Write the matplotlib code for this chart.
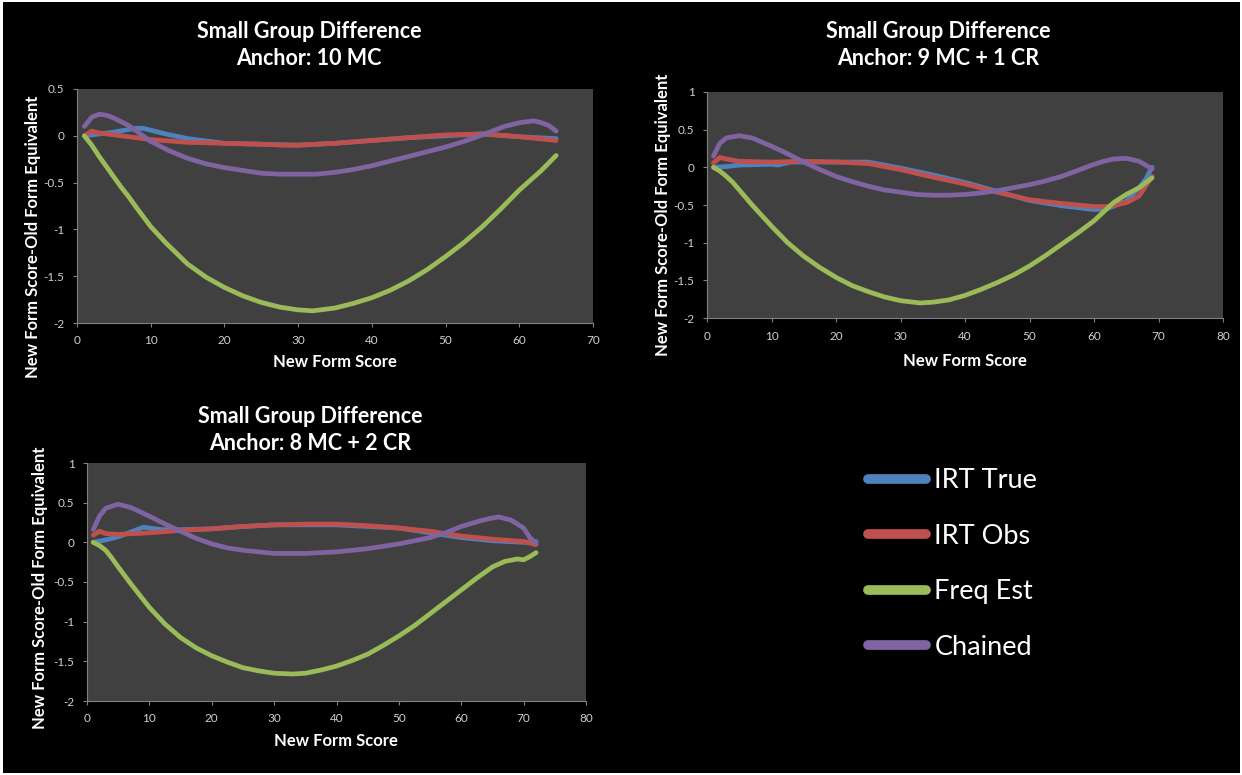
import matplotlib
matplotlib.use("Agg")
import matplotlib.pyplot as plt
from matplotlib.lines import Line2D
from matplotlib.patches import Rectangle
from matplotlib.ticker import FuncFormatter

plt.rcParams['font.family'] = ['Lato', 'DejaVu Sans']

series_names = ["IRT True", "IRT Obs", "Freq Est", "Chained"]
colors = ["#4F81BD", "#C0504D", "#9BBB59", "#8064A2"]

# panel 1: anchor 10 MC
p1_x_true = [1, 3, 5, 8, 9, 10, 12, 15, 20, 25, 30, 35, 40, 45, 50, 55, 60, 65]
p1_true = [0.0, 0.02, 0.04, 0.08, 0.08, 0.06, 0.02, -0.03, -0.08, -0.09, -0.10, -0.08, -0.05, -0.02, 0.0, 0.02, -0.01, -0.03]
p1_x_obs = [1, 2, 3, 5, 10, 15, 20, 25, 28, 30, 35, 40, 45, 50, 55, 60, 65]
p1_obs = [0.0, 0.05, 0.03, 0.01, -0.04, -0.07, -0.08, -0.09, -0.10, -0.10, -0.08, -0.05, -0.02, 0.01, 0.02, -0.01, -0.05]
p1_x_freq = [1, 2, 3, 4, 5, 6, 7, 8, 10, 12, 15, 17.5, 20, 22.5, 25, 27.5, 30, 32, 35, 37.5,
             40, 42.5, 45, 47.5, 50, 52.5, 55, 57.5, 60, 63, 65]
p1_freq = [0.0, -0.10, -0.22, -0.33, -0.44, -0.55, -0.65, -0.76, -0.97, -1.14, -1.37, -1.51, -1.62, -1.71,
           -1.78, -1.83, -1.86, -1.87, -1.84, -1.79, -1.73, -1.65, -1.55, -1.43, -1.29, -1.14, -0.97,
           -0.78, -0.58, -0.37, -0.21]
p1_x_chain = [1, 2, 3, 4, 5, 7, 10, 12.5, 15, 17.5, 20, 22.5, 25, 27.5, 30, 32.5, 35, 37.5, 40,
              42.5, 45, 47.5, 50, 52.5, 55, 58, 60, 62, 63, 64, 65]
p1_chain = [0.10, 0.20, 0.23, 0.22, 0.19, 0.11, -0.06, -0.16, -0.24, -0.30, -0.34, -0.37, -0.40, -0.41,
            -0.41, -0.41, -0.39, -0.36, -0.32, -0.27, -0.22, -0.17, -0.12, -0.06, 0.01, 0.10, 0.14,
            0.16, 0.14, 0.11, 0.05]

# panel 2: anchor 9 MC + 1 CR
p2_x_true = [1, 3, 5, 10, 11, 13, 20, 25, 30, 35, 40, 45, 50, 55, 60, 62, 65, 67, 68, 69]
p2_true = [0.0, 0.01, 0.03, 0.04, 0.03, 0.07, 0.07, 0.07, -0.01, -0.10, -0.20, -0.32, -0.44, -0.51, -0.56, -0.55, -0.45, -0.27, -0.16, 0.0]
p2_x_obs = [1, 2, 3, 5, 10, 15, 20, 25, 30, 35, 40, 45, 50, 55, 60, 62, 65, 67, 69]
p2_obs = [0.06, 0.13, 0.11, 0.08, 0.07, 0.08, 0.07, 0.05, -0.03, -0.13, -0.22, -0.33, -0.43, -0.48, -0.52, -0.52, -0.47, -0.38, -0.12]
p2_x_freq = [1, 2, 3, 4, 5, 7, 10, 12.5, 15, 17.5, 20, 22.5, 25, 27.5, 30, 33, 35, 37.5, 40,
             42.5, 45, 47.5, 50, 52.5, 55, 57.5, 60, 63, 65, 67, 69]
p2_freq = [0.0, -0.05, -0.12, -0.20, -0.30, -0.50, -0.78, -1.00, -1.18, -1.33, -1.46, -1.57, -1.65,
           -1.72, -1.77, -1.80, -1.79, -1.76, -1.70, -1.62, -1.53, -1.43, -1.31, -1.17, -1.02, -0.87,
           -0.71, -0.47, -0.36, -0.27, -0.14]
p2_x_chain = [1, 2, 3, 5, 7, 10, 12.5, 15, 17.5, 20, 22.5, 25, 27.5, 30, 32.5, 35, 37.5, 40, 42.5,
              45, 47.5, 50, 52.5, 55, 57.5, 60, 61.5, 63, 65, 67, 68, 69]
p2_chain = [0.15, 0.32, 0.39, 0.42, 0.39, 0.28, 0.18, 0.07, -0.03, -0.12, -0.19, -0.25, -0.30, -0.33,
            -0.36, -0.37, -0.37, -0.36, -0.34, -0.31, -0.27, -0.23, -0.18, -0.12, -0.04, 0.04, 0.08,
            0.11, 0.12, 0.08, 0.03, -0.02]

# panel 3: anchor 8 MC + 2 CR
p3_x_true = [1, 3, 5, 8, 9, 10, 12, 15, 20, 25, 30, 40, 50, 55, 60, 65, 70, 72]
p3_true = [0.0, 0.03, 0.07, 0.16, 0.19, 0.18, 0.16, 0.16, 0.17, 0.20, 0.22, 0.22, 0.18, 0.12, 0.06, 0.02, 0.0, 0.01]
p3_x_obs = [1, 2, 3, 5, 10, 15, 20, 25, 30, 35, 40, 45, 50, 55, 60, 65, 70, 72]
p3_obs = [0.09, 0.14, 0.11, 0.10, 0.12, 0.15, 0.17, 0.20, 0.22, 0.23, 0.23, 0.21, 0.18, 0.14, 0.08, 0.04, 0.01, -0.03]
p3_x_freq = [1, 2, 3, 4, 5, 7, 10, 12.5, 15, 17.5, 20, 22.5, 25, 27.5, 30, 33, 35, 37.5, 40, 42.5,
             45, 47.5, 50, 52.5, 55, 57.5, 60, 62.5, 65, 67, 69, 70, 71, 72]
p3_freq = [0.0, -0.04, -0.10, -0.20, -0.31, -0.52, -0.82, -1.03, -1.20, -1.33, -1.43, -1.51, -1.58,
           -1.62, -1.65, -1.66, -1.65, -1.61, -1.56, -1.49, -1.41, -1.30, -1.18, -1.05, -0.90, -0.75,
           -0.60, -0.45, -0.31, -0.24, -0.21, -0.22, -0.18, -0.13]
p3_x_chain = [1, 2, 3, 5, 7, 10, 12.5, 15, 17.5, 20, 22.5, 25, 27.5, 30, 32.5, 35, 40, 45, 50, 55,
              57.5, 60, 63, 64.5, 66, 68, 70, 71, 72]
p3_chain = [0.16, 0.33, 0.43, 0.48, 0.44, 0.33, 0.23, 0.14, 0.05, -0.02, -0.07, -0.10, -0.12, -0.14,
            -0.14, -0.14, -0.12, -0.08, -0.02, 0.06, 0.12, 0.20, 0.27, 0.30, 0.32, 0.28, 0.18, 0.06, -0.01]

titles = ["Small Group Difference\nAnchor: 10 MC",
          "Small Group Difference\nAnchor: 9 MC + 1 CR",
          "Small Group Difference\nAnchor: 8 MC + 2 CR"]
x_ticks = [list(range(0, 71, 10)), list(range(0, 81, 10)), list(range(0, 81, 10))]
y_ticks = [[-2, -1.5, -1, -0.5, 0, 0.5], [-2, -1.5, -1, -0.5, 0, 0.5, 1], [-2, -1.5, -1, -0.5, 0, 0.5, 1]]

panels = [
    [(p1_x_true, p1_true), (p1_x_obs, p1_obs), (p1_x_freq, p1_freq), (p1_x_chain, p1_chain)],
    [(p2_x_true, p2_true), (p2_x_obs, p2_obs), (p2_x_freq, p2_freq), (p2_x_chain, p2_chain)],
    [(p3_x_true, p3_true), (p3_x_obs, p3_obs), (p3_x_freq, p3_freq), (p3_x_chain, p3_chain)],
]

W, H = 1242, 775
fig = plt.figure(figsize=(W / 100, H / 100), dpi=100, facecolor="white")
fig.patches.append(Rectangle((3 / W, 2 / H), (W - 5) / W, (H - 4) / H,
                             transform=fig.transFigure, facecolor="black",
                             edgecolor="none", zorder=-10))

# pixel boxes: left, top, right, bottom
boxes = [(77, 89, 593, 323), (707, 92, 1223, 318), (87, 463, 586, 701)]
title_pos = [(309, 45), (938, 45), (310, 430)]
xlabel_pos = [(335, 362), (965, 361), (336, 741)]
ylabel_pos = [(33, 237), (663, 215), (40, 588)]

fmt = FuncFormatter(lambda v, p: f"{v:g}")

for i, (l, t, r, b) in enumerate(boxes):
    ax = fig.add_axes([l / W, 1 - b / H, (r - l) / W, (b - t) / H])
    ax.set_facecolor("#404040")
    for (xs, ys), c in zip(panels[i], colors):
        ax.plot(xs, ys, color=c, lw=3.4, solid_capstyle="round", solid_joinstyle="round")
    ax.set_xlim(x_ticks[i][0], x_ticks[i][-1])
    ax.set_ylim(y_ticks[i][0], y_ticks[i][-1])
    ax.set_xticks(x_ticks[i])
    ax.set_yticks(y_ticks[i])
    ax.xaxis.set_major_formatter(fmt)
    ax.yaxis.set_major_formatter(fmt)
    ax.tick_params(colors="#808080", labelcolor="#D0D0D0", labelsize=8.5,
                   length=3, width=0.8, direction="out", pad=6)
    for s in ["top", "right"]:
        ax.spines[s].set_visible(False)
    for s in ["left", "bottom"]:
        ax.spines[s].set_color("#808080")
        ax.spines[s].set_linewidth(0.8)

    tx, ty = title_pos[i]
    fig.text(tx / W, 1 - ty / H, titles[i], ha="center", va="center",
             color="white", fontsize=15.5, fontweight="bold", linespacing=1.35)
    xx, xy = xlabel_pos[i]
    fig.text(xx / W, 1 - xy / H, "New Form Score", ha="center", va="center",
             color="white", fontsize=12, fontweight="bold")
    yx, yy = ylabel_pos[i]
    fig.text(yx / W, 1 - yy / H, "New Form Score-Old Form Equivalent", ha="center",
             va="center", rotation=90, color="white", fontsize=12, fontweight="bold")

handles = [Line2D([], [], color=c, lw=7, solid_capstyle="round") for c in colors]
leg = fig.legend(handles, series_names, loc="upper left",
                 bbox_to_anchor=(868 / W, 1 - 468 / H), frameon=False,
                 fontsize=19.5, labelcolor="white", handlelength=2.15,
                 handletextpad=0.3, labelspacing=1.13, borderpad=0, borderaxespad=0)

fig.savefig("out.png", dpi=100, facecolor=fig.get_facecolor())
